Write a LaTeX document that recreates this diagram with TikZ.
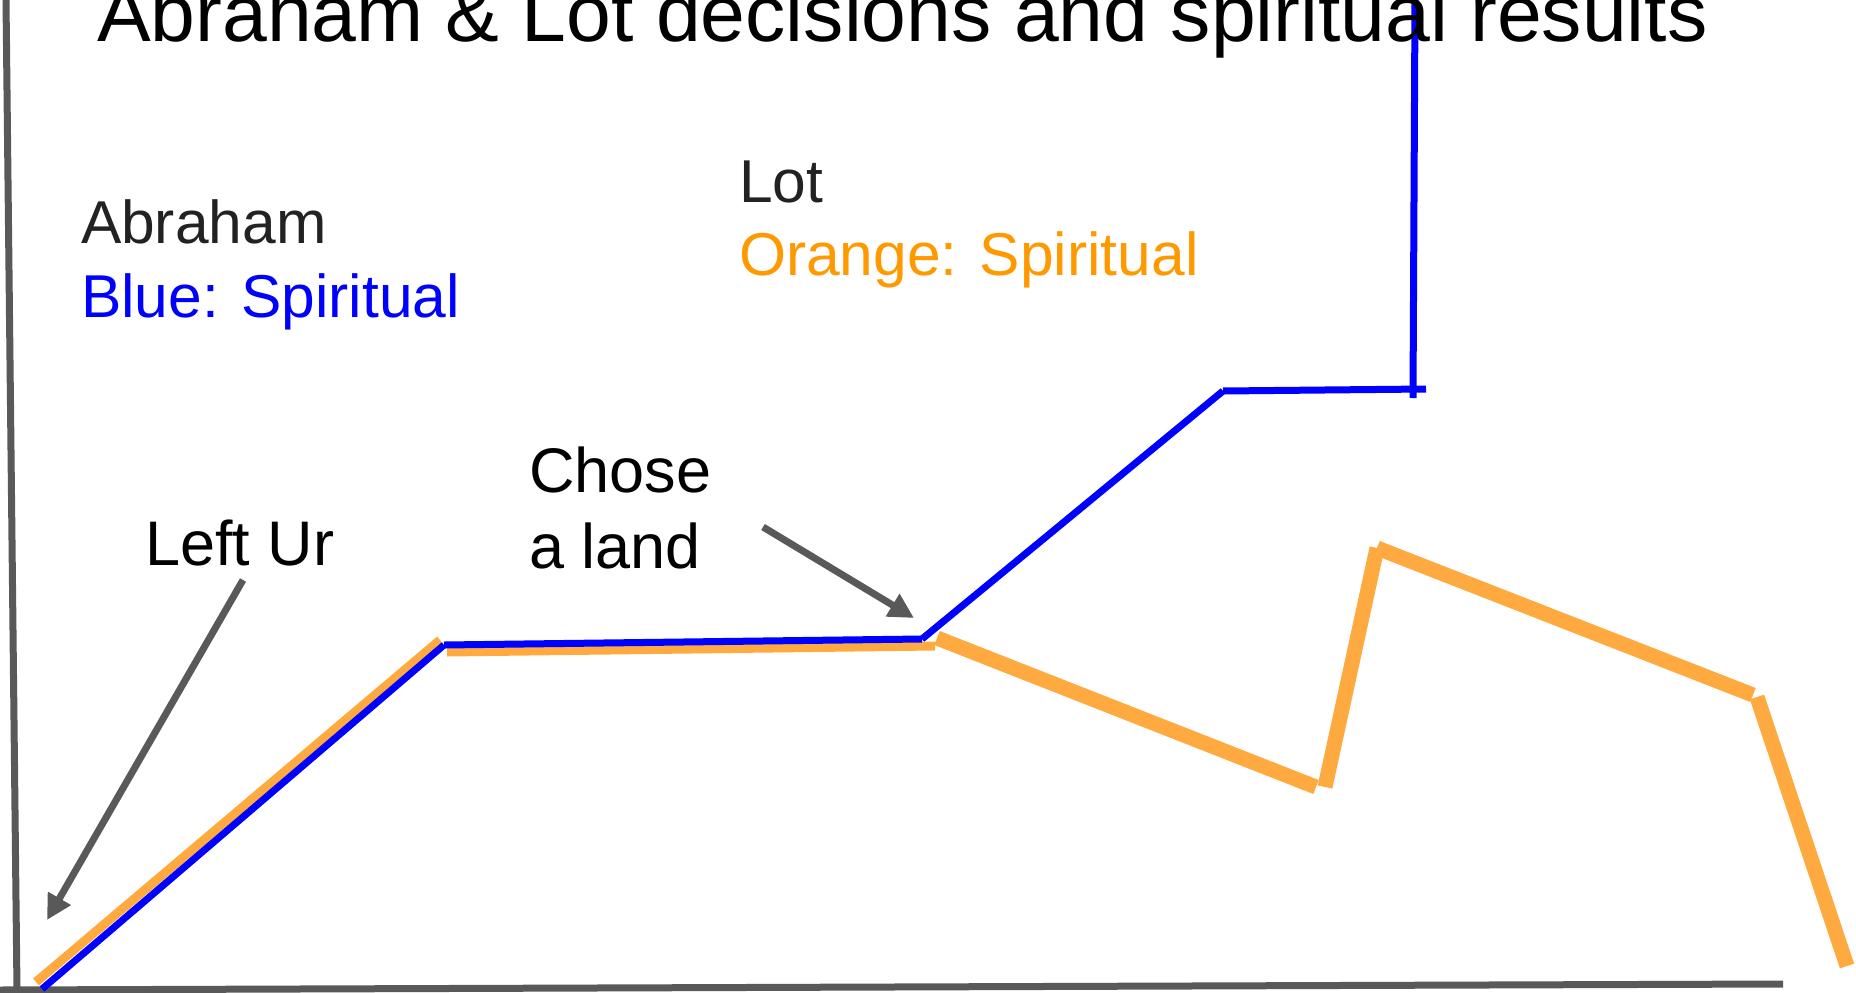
\documentclass[tikz,border=0pt]{standalone}
\usepackage{fontspec}
\setmainfont{Liberation Sans}
\usetikzlibrary{arrows.meta}
\definecolor{axisgray}{HTML}{595959}
\definecolor{abblue}{HTML}{0000FF}
\definecolor{lotline}{HTML}{FFAA40}
\definecolor{lottext}{HTML}{FF9900}
\definecolor{darktext}{HTML}{222222}
\tikzset{
  axisline/.style={draw=axisgray, line width=7pt},
  pointer/.style={draw=axisgray, line width=7pt, -{Triangle[length=25pt,width=25pt]}},
  blueline/.style={draw=abblue, line width=7pt},
  orthin/.style={draw=lotline, line width=9pt},
  orthick/.style={draw=lotline, line width=15pt},
  lbl/.style={anchor=base west, inner sep=0pt, outer sep=0pt, font=\fontsize{60.5}{74}\selectfont},
  note/.style={anchor=base west, inner sep=0pt, outer sep=0pt, font=\fontsize{63}{76}\selectfont},
  ttl/.style={anchor=base west, inner sep=0pt, outer sep=0pt, font=\fontsize{80.5}{96}\selectfont}
}
\begin{document}
\begin{tikzpicture}[x=1pt,y=-1pt]
\useasboundingbox (0,0) rectangle (1856,993);
\clip (0,0) rectangle (1856,993);
% axes
\coordinate (yt) at (6,0);
\coordinate (yb) at (17,990);
\coordinate (xl) at (0,990);
\coordinate (xr) at (1783,984);
\draw[axisline] (yt) -- (yb);
\draw[axisline] (xl) -- (xr);
% orange (Lot)
\coordinate (o1) at (36,982);
\coordinate (o2) at (440,640);
\coordinate (o3) at (447,652);
\coordinate (o4) at (935,646);
\coordinate (o5) at (937,638);
\coordinate (o6) at (1316,787);
\coordinate (o7) at (1325,787);
\coordinate (o8) at (1377,548);
\coordinate (o9) at (1377,548);
\coordinate (o10) at (1753,695);
\coordinate (o11) at (1757,697);
\coordinate (o12) at (1847,966);
\draw[orthin] (o1) -- (o2);
\draw[orthin] (o3) -- (o4);
\draw[orthick] (o5) -- (o6);
\draw[orthick] (o7) -- (o8);
\draw[orthick] (o9) -- (o10);
\draw[orthick] (o11) -- (o12);
% blue (Abraham)
\coordinate (b1) at (42,989);
\coordinate (b2) at (444,645);
\coordinate (b3) at (922,639);
\coordinate (b4) at (1223,391);
\coordinate (b5) at (1426,389);
\coordinate (b6) at (1415,0);
\coordinate (b7) at (1413,398);
\draw[blueline] (b1) -- (b2);
\draw[blueline] (b2) -- (b3);
\draw[blueline] (b3) -- (b4);
\draw[blueline] (b4) -- (b5);
\draw[blueline] (b6) -- (b7);
% texts
\node[ttl] (title) at (97,41) {Abraham \& Lot decisions and spiritual results};
\node[lbl, text=darktext] (abr) at (81,243) {Abraham};
\node[lbl, text=abblue] (abrkey) at (81,317) {Blue: Spiritual};
\node[lbl, text=darktext] (lot) at (739,202) {Lot};
\node[lbl, text=lottext] (lotkey) at (739,275) {Orange: Spiritual};
\node[note, text=black] (leftur) at (145,565) {Left Ur};
\node[note, text=black] (chose1) at (529,492) {Chose};
\node[note, text=black] (chose2) at (529,568) {a land};
% pointers
\coordinate (p1s) at (243,580);
\coordinate (p1e) at (47,920);
\coordinate (p2s) at (763,527);
\coordinate (p2e) at (914,618);
\draw[pointer] (p1s) -- (p1e);
\draw[pointer] (p2s) -- (p2e);
\end{tikzpicture}
\end{document}
